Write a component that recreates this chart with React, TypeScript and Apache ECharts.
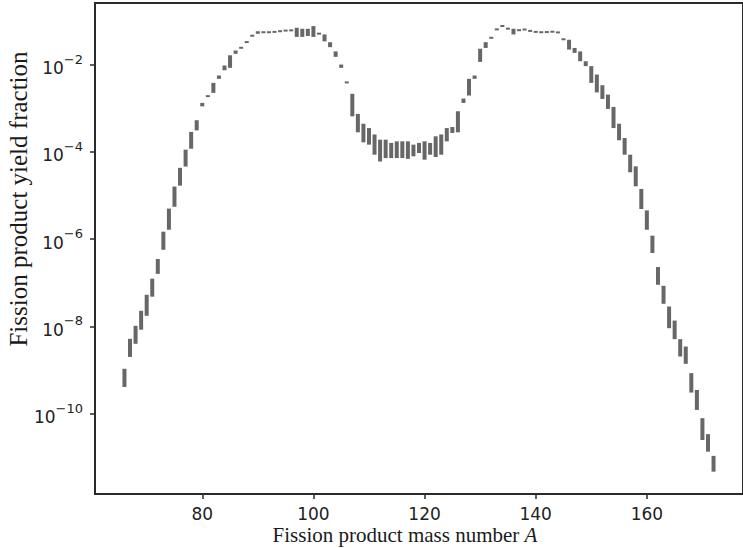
import React, { useEffect, useRef } from "react";
import * as echarts from "echarts";

const massNumber = [
  66, 67, 68, 69, 70, 71, 72, 73, 74, 75, 76, 77, 78, 79, 80, 81, 82, 83, 84, 85,
  86, 87, 88, 89, 90, 91, 92, 93, 94, 95, 96, 97, 98, 99, 100, 101, 102, 103, 104, 105,
  106, 107, 108, 109, 110, 111, 112, 113, 114, 115, 116, 117, 118, 119, 120, 121, 122, 123, 124, 125,
  126, 127, 128, 129, 130, 131, 132, 133, 134, 135, 136, 137, 138, 139, 140, 141, 142, 143, 144, 145,
  146, 147, 148, 149, 150, 151, 152, 153, 154, 155, 156, 157, 158, 159, 160, 161, 162, 163, 164, 165,
  166, 167, 168, 169, 170, 171, 172,
];

const yieldLow = [
  4.1e-10, 2.0e-9, 4.0e-9, 8.4e-9, 1.75e-8, 4.8e-8, 1.6e-7, 5.7e-7, 1.64e-6, 5.5e-6,
  1.68e-5, 4.6e-5, 1.18e-4, 3.1e-4, 1.1e-3, 1.8e-3, 2.24e-3, 4.7e-3, 7.4e-3, 8.4e-3,
  1.76e-2, 2.3e-2, 3.15e-2, 4.45e-2, 5.1e-2, 5.4e-2, 5.4e-2, 5.5e-2, 5.7e-2, 5.9e-2,
  5.8e-2, 4.3e-2, 4.3e-2, 4.5e-2, 4.3e-2, 4.9e-2, 3.4e-2, 2.5e-2, 1.5e-2, 8.4e-3,
  3.7e-3, 6.5e-4, 2.8e-4, 1.65e-4, 1.46e-4, 8.6e-5, 6.0e-5, 7.2e-5, 7.2e-5, 7.2e-5,
  7.2e-5, 6.9e-5, 7.9e-5, 9.4e-5, 6.6e-5, 8.6e-5, 7.6e-5, 8.6e-5, 1.74e-4, 2.7e-4,
  2.8e-4, 1.32e-3, 1.95e-3, 4.7e-3, 1.15e-2, 2.4e-2, 3.9e-2, 6.1e-2, 7.3e-2, 6.35e-2,
  4.9e-2, 5.9e-2, 6.1e-2, 5.7e-2, 5.4e-2, 5.3e-2, 5.4e-2, 5.5e-2, 5.2e-2, 3.6e-2,
  2.2e-2, 1.85e-2, 1.19e-2, 9.2e-3, 3.8e-3, 2.3e-3, 1.63e-3, 9.6e-4, 3.5e-4, 1.84e-4,
  8.6e-5, 3.4e-5, 1.62e-5, 4.9e-6, 1.64e-6, 4.8e-7, 9.0e-8, 3.3e-8, 9.1e-9, 5.1e-9,
  2.04e-9, 1.39e-9, 3.05e-10, 1.22e-10, 2.5e-11, 1.35e-11, 4.7e-12,
];

const yieldHigh = [
  1.07e-9, 5.2e-9, 1.03e-8, 2.28e-8, 5.3e-8, 1.24e-7, 3.5e-7, 1.48e-6, 5.0e-6, 1.6e-5,
  4.3e-5, 1.12e-4, 2.86e-4, 5.3e-4, 1.32e-3, 1.98e-3, 3.8e-3, 5.6e-3, 9.5e-3, 1.63e-2,
  2.1e-2, 2.55e-2, 3.4e-2, 4.7e-2, 5.8e-2, 5.6e-2, 5.6e-2, 5.7e-2, 5.9e-2, 6.1e-2,
  6.35e-2, 6.95e-2, 6.6e-2, 6.6e-2, 7.6e-2, 5.3e-2, 4.9e-2, 3.25e-2, 2.0e-2, 1.0e-2,
  4.1e-3, 2.13e-3, 7.4e-4, 4.4e-4, 3.5e-4, 2.5e-4, 1.9e-4, 1.9e-4, 1.6e-4, 1.74e-4,
  1.74e-4, 1.74e-4, 1.46e-4, 1.6e-4, 1.74e-4, 1.6e-4, 2.27e-4, 2.5e-4, 3.5e-4, 3.7e-4,
  8.5e-4, 1.66e-3, 4.7e-3, 5.6e-3, 2.3e-2, 3.25e-2, 4.3e-2, 6.7e-2, 8.0e-2, 6.95e-2,
  6.6e-2, 6.35e-2, 6.6e-2, 6.1e-2, 5.8e-2, 5.7e-2, 5.7e-2, 5.8e-2, 5.7e-2, 4.0e-2,
  3.7e-2, 2.4e-2, 2.0e-2, 1.19e-2, 9.2e-3, 5.9e-3, 3.36e-3, 2.05e-3, 1.07e-3, 4.4e-4,
  2.07e-4, 8.6e-5, 4.65e-5, 1.41e-5, 4.55e-6, 1.2e-6, 2.3e-7, 8.5e-8, 2.86e-8, 1.36e-8,
  5.1e-9, 3.46e-9, 8.5e-10, 3.5e-10, 7.9e-11, 3.4e-11, 1.08e-11,
];

const yTickExponents = [-10, -8, -6, -4, -2];
const xTicks = [80, 100, 120, 140, 160];

const xTitle = "Fission product mass number ";
const xTitleItalic = "A";
const yTitle = "Fission product yield fraction";

export default function App() {
  const ref = useRef<HTMLDivElement>(null);

  useEffect(() => {
    if (!ref.current) return;
    const chart = echarts.init(ref.current, undefined, { renderer: "svg" });
    const data = massNumber.map((a, i) => [a, Math.log10(yieldLow[i]), Math.log10(yieldHigh[i])]);
    const axisColor = "#2a2a2a";
    const labelFont = "DejaVu Sans";

    chart.setOption({
      animation: false,
      backgroundColor: "#ffffff",
      grid: {
        left: 95,
        top: 3,
        bottom: 54,
        right: -7,
        show: true,
        borderColor: axisColor,
        borderWidth: 2,
        backgroundColor: "transparent",
      },
      xAxis: {
        type: "value",
        min: 60.7,
        max: 177.3,
        splitLine: { show: false },
        axisLine: { show: true, lineStyle: { color: axisColor, width: 2 } },
        axisTick: {
          show: true,
          customValues: xTicks,
          length: 5,
          lineStyle: { color: axisColor, width: 1.5 },
        },
        axisLabel: {
          customValues: xTicks,
          margin: 11,
          fontFamily: labelFont,
          fontSize: 17,
          color: "#222",
        },
      },
      yAxis: {
        type: "value",
        min: -11.84,
        max: -0.59,
        splitLine: { show: false },
        axisLine: { show: true, lineStyle: { color: axisColor, width: 2 } },
        axisTick: {
          show: true,
          customValues: yTickExponents,
          length: 5,
          lineStyle: { color: axisColor, width: 1.5 },
        },
        axisLabel: {
          customValues: yTickExponents,
          margin: 12,
          formatter: (v: number) => `{b|10}{s|\u2212${Math.abs(Math.round(v))}}`,
          rich: {
            b: {
              fontFamily: labelFont,
              fontSize: 17,
              color: "#222",
              lineHeight: 24,
              verticalAlign: "bottom",
            },
            s: {
              fontFamily: labelFont,
              fontSize: 13,
              color: "#222",
              lineHeight: 14,
              verticalAlign: "top",
            },
          },
        },
      },
      graphic: [
        {
          type: "text",
          x: 405,
          y: 535,
          style: {
            text: `{n|${xTitle}}{i|${xTitleItalic}}`,
            align: "center",
            verticalAlign: "middle",
            rich: {
              n: {
                fontFamily: "Liberation Serif",
                fontSize: 21,
                fill: "#1a1a1a",
              },
              i: {
                fontFamily: "Liberation Serif",
                fontStyle: "italic",
                fontSize: 21,
                fill: "#1a1a1a",
              },
            },
          },
        },
        {
          type: "text",
          x: 18,
          y: 199,
          rotation: Math.PI / 2,
          style: {
            text: yTitle,
            fontFamily: "Liberation Serif",
            fontSize: 25,
            fill: "#1a1a1a",
            align: "center",
            verticalAlign: "middle",
          },
        },
      ],
      series: [
        {
          type: "custom",
          clip: true,
          data,
          encode: { x: 0, y: [1, 2] },
          renderItem: (params: any, api: any) => {
            const a = api.value(0);
            const top = api.coord([a, api.value(2)]);
            const bottom = api.coord([a, api.value(1)]);
            const raw = bottom[1] - top[1];
            const h = Math.max(raw, 2);
            const y = top[1] - (h - raw) / 2;
            return {
              type: "rect",
              shape: { x: top[0] - 2, y, width: 4, height: h },
              style: { fill: "#676767" },
            };
          },
        },
      ],
    });

    return () => chart.dispose();
  }, []);

  return (
    <div
      ref={ref}
      style={{ position: "absolute", left: 0, top: 0, width: 743, height: 548 }}
    />
  );
}
